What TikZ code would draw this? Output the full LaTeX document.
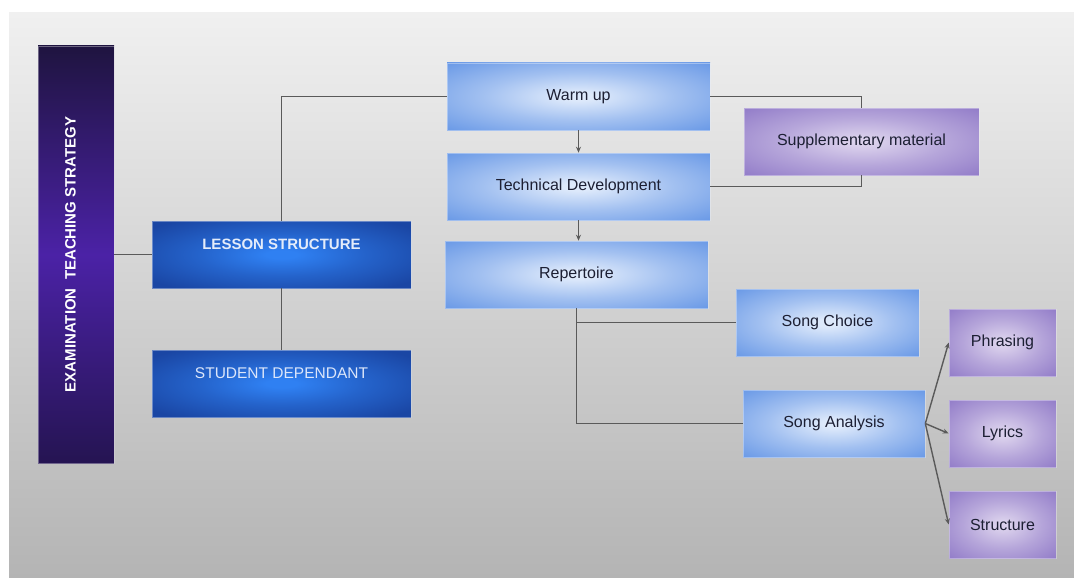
\documentclass[tikz,border=0pt]{standalone}
\usepackage{fontspec}
\setmainfont{Liberation Sans}
\usetikzlibrary{arrows.meta}
\definecolor{lbin}{HTML}{DDE9FB}
\definecolor{lbout}{HTML}{6898E6}
\colorlet{lbmid}{lbin!50!lbout}
\definecolor{dbin}{HTML}{2F80F2}
\definecolor{dbout}{HTML}{1A46A4}
\colorlet{dbmid}{dbin!50!dbout}
\definecolor{puin}{HTML}{DAD0EC}
\definecolor{puout}{HTML}{917BC8}
\colorlet{pumid}{puin!50!puout}
\definecolor{extop}{HTML}{1F1440}
\definecolor{exmid}{HTML}{4B22A6}
\definecolor{exbot}{HTML}{251452}
\definecolor{txt}{HTML}{1C1F33}
\definecolor{conn}{HTML}{5A5A5A}
\definecolor{bgtop}{HTML}{F0F0F0}
\definecolor{bgbot}{HTML}{B4B4B4}
\definecolor{sdtext}{HTML}{DCE6FA}
\definecolor{lstext}{HTML}{E4ECFA}
\pgfdeclareradialshading{lbsh}{\pgfpoint{0bp}{0bp}}{color(0bp)=(lbin); color(3bp)=(lbin); color(18bp)=(lbmid); color(36bp)=(lbout); color(50bp)=(lbout)}
\pgfdeclareradialshading{dbsh}{\pgfpoint{0bp}{0bp}}{color(0bp)=(dbin); color(3bp)=(dbin); color(16bp)=(dbmid); color(32bp)=(dbout); color(50bp)=(dbout)}
\pgfdeclareradialshading{pusho}{\pgfpoint{0bp}{0bp}}{color(0bp)=(puin); color(3bp)=(puin); color(18bp)=(pumid); color(36bp)=(puout); color(50bp)=(puout)}
\pgfdeclareverticalshading{exsh}{100bp}{color(0bp)=(exbot); color(25bp)=(exbot); color(50bp)=(exmid); color(75bp)=(extop); color(100bp)=(extop)}
\tikzset{
  box/.style={rectangle, inner sep=0pt, font=\fontsize{16}{19}\selectfont, draw=white, draw opacity=0.35, line width=0.6pt},
  light/.style={box, shading=lbsh, text=txt},
  purp/.style={box, shading=pusho, text=txt},
  dark/.style={box, shading=dbsh, text height=11pt, text depth=21pt},
  exambox/.style={box, shading=exsh, text=white, font=\fontsize{15}{18}\selectfont\bfseries, text height=11pt, text depth=12pt},
  conn/.style={draw=conn, line width=1.4pt},
  arr/.style={conn, -{Stealth[length=6pt,width=5pt]}}
}
\begin{document}
\begin{tikzpicture}[x=1pt,y=-1pt]
\useasboundingbox (0,0) rectangle (1074,578);
\fill[white] (0,0) rectangle (1074,578);
\shade[top color=bgtop, bottom color=bgbot] (9,13) rectangle (1074,578);

\node[exambox, minimum width=417pt, minimum height=76pt, rotate=90] (exam) at (76,254.5) {EXAMINATION\ \ TEACHING STRATEGY};
\node[dark, minimum width=259pt, minimum height=67pt, text=lstext, font=\fontsize{15}{18}\selectfont\bfseries] (lesson) at (281.5,254.5) {LESSON STRUCTURE};
\node[dark, minimum width=259pt, minimum height=67pt, text=sdtext, font=\fontsize{15.5}{18}\selectfont] (student) at (281.5,383.5) {STUDENT DEPENDANT};

\node[light, minimum width=263pt, minimum height=67pt] (warm) at (578.5,96.5) {Warm up};
\node[light, minimum width=263pt, minimum height=67pt] (tech) at (578.5,186.5) {Technical Development};
\node[light, minimum width=263pt, minimum height=67pt] (rep) at (576.5,274.5) {Repertoire};
\node[purp, minimum width=235pt, minimum height=67pt] (supp) at (861.5,141.5) {Supplementary material};
\node[light, minimum width=183pt, minimum height=67pt] (choice) at (827.5,322.5) {Song Choice};
\node[light, minimum width=182pt, minimum height=67pt] (analysis) at (834,423.5) {Song Analysis};
\node[purp, minimum width=107pt, minimum height=67pt] (phrasing) at (1002.5,342.5) {Phrasing};
\node[purp, minimum width=107pt, minimum height=67pt] (lyrics) at (1002.5,433.5) {Lyrics};
\node[purp, minimum width=107pt, minimum height=67pt] (structure) at (1002.5,524.5) {Structure};

\draw[conn] (exam.south) -- (lesson.west);
\draw[conn] (lesson.north) |- (warm.west);
\draw[conn] (lesson.south) -- (student.north);
\draw[arr] (warm.south) -- (tech.north);
\draw[arr] (tech.south) -- (tech.south |- rep.north);
\draw[conn] (warm.east) -| (supp.north);
\draw[conn] (tech.east) -| (supp.south);
\draw[conn] (rep.south) |- (analysis.west);
\draw[conn] (rep.south |- choice.west) -- (choice.west);
\draw[arr] (analysis.east) -- (phrasing.west);
\draw[arr] (analysis.east) -- (lyrics.west);
\draw[arr] (analysis.east) -- (structure.west);
\end{tikzpicture}
\end{document}
